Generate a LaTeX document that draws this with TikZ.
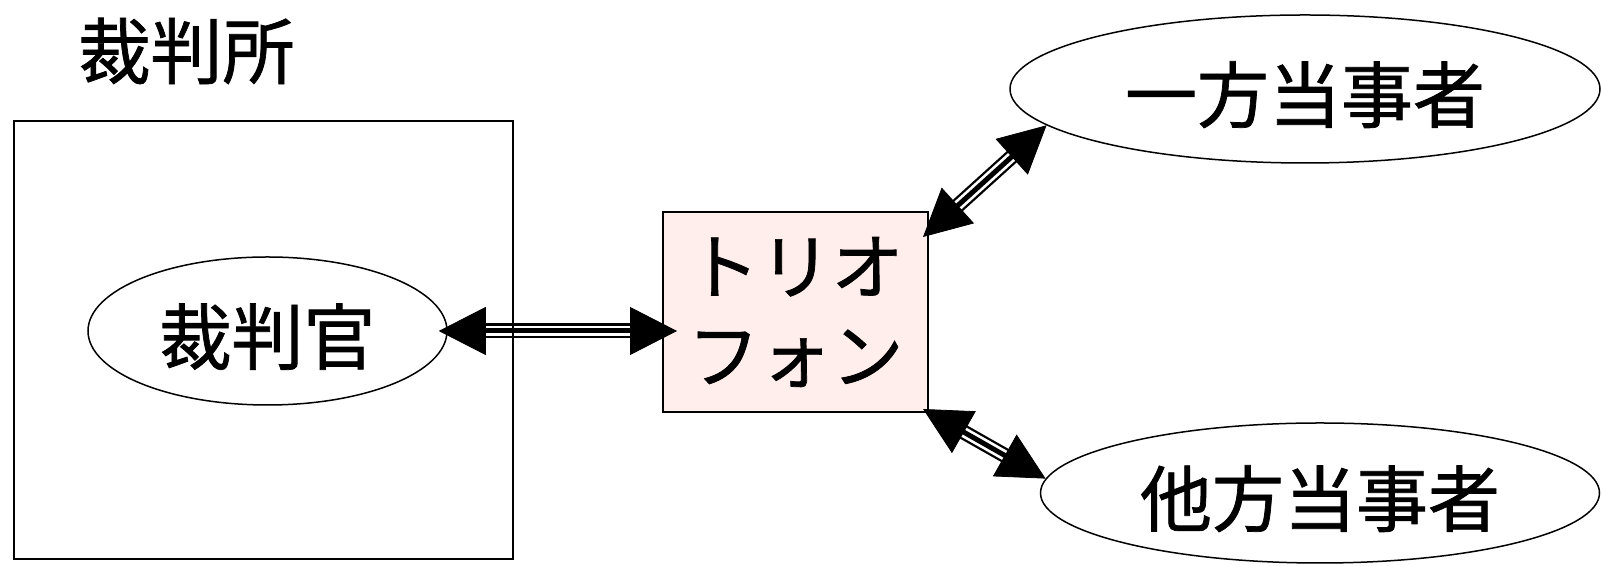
\documentclass[tikz,border=0pt]{standalone}
\usepackage{fontspec}
\newfontfamily\jpfont[FakeBold=1]{Noto Sans CJK JP}
\usepackage{xcolor}
\usepackage{tikz}
\usetikzlibrary{positioning, shapes.geometric, arrows.meta, calc}

\definecolor{triopink}{RGB}{255,238,236}

% three-stroke link with big heads at both ends
\newcommand{\triplelink}[2]{%
  \draw[line width=7.5pt, shorten <=19pt, shorten >=19pt] #1 -- #2;
  \draw[white, line width=5.2pt, shorten <=19pt, shorten >=19pt] #1 -- #2;
  \draw[line width=2.5pt, shorten <=19pt, shorten >=19pt] #1 -- #2;
  \draw[{Triangle[length=23.5pt, width=24pt]}-{Triangle[length=23.5pt, width=24pt]}] #1 -- #2;
}

\begin{document}
\begin{tikzpicture}[x=0.5pt, y=0.5pt,
    jp/.style={font=\jpfont\fontsize{36pt}{44.5pt}\selectfont},
    party/.style={draw, ellipse, line width=0.75pt, inner sep=0pt, jp, text height=33pt, text depth=0pt}]

    \useasboundingbox (0,0) rectangle (1601,566);

    % Judge inside the court
    \node[party, minimum width=179.5pt, minimum height=74pt] (judge) at (267.5,235) {裁判官};

    % Trio phone
    \node[draw, rectangle, fill=triopink, line width=1pt, align=center, jp,
          minimum width=132.5pt, minimum height=100pt] (trio) at (795.5,254) {トリオ\\フォン};

    % Parties
    \node[party, minimum width=295pt, minimum height=74pt] (party1) at (1305,477) {一方当事者};
    \node[party, minimum width=279.5pt, minimum height=70pt] (party2) at (1320,73) {他方当事者};

    % Links
    \triplelink{([xshift=-4.5pt]judge.east)}{($(judge.east -| trio.west)+(7.5pt,0)$)}
    \triplelink{([xshift=-3pt, yshift=-13pt]trio.north east)}{(party1.188)}
    \triplelink{([xshift=-3pt, yshift=2pt]trio.south east)}{(party2.177)}

    % Court box and its title
    \node[draw, rectangle, line width=1pt, minimum width=249.5pt, minimum height=219pt] (court) at (263.5,226) {};
    \node[jp] (courttitle) at (186.5,515) {裁判所};

\end{tikzpicture}
\end{document}
